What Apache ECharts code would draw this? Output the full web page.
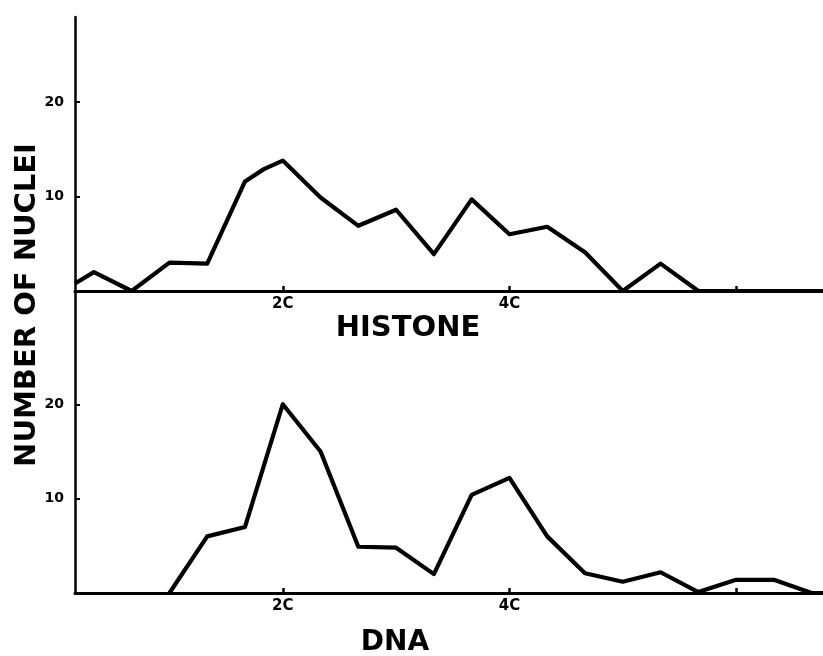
<!DOCTYPE html>
<html>
<head>
<meta charset="utf-8">
<script src="https://cdn.jsdelivr.net/npm/echarts@6/dist/echarts.min.js"></script>
<style>
html,body{margin:0;padding:0;background:#fff;}
#chart{width:823px;height:656px;}
</style>
</head>
<body>
<div id="chart"></div>
<script>
// x positions in channel steps (2C = 6, 4C = 12, 6C = 18)
var histoneX = [0.5, 1, 2, 3, 4, 5, 5.5, 6, 7, 8, 9, 10, 11, 12, 13, 14, 15, 16, 17, 18, 19, 20, 20.3];
var histoneY = [0.8, 2, 0, 3, 2.9, 11.6, 12.9, 13.8, 9.9, 6.9, 8.6, 3.9, 9.7, 6.0, 6.8, 4.1, 0, 2.9, 0, 0, 0, 0, 0];
var dnaX = [3, 4, 5, 6, 7, 8, 9, 10, 11, 12, 13, 14, 15, 16, 17, 18, 19, 20, 20.3];
var dnaY = [0, 6, 7, 20, 15, 4.9, 4.8, 2, 10.4, 12.2, 6, 2.1, 1.2, 2.2, 0.1, 1.4, 1.4, 0, 0];
var xTickValues = [6, 12, 18];
var xLabelValues = [6, 12];
var xLabelText = {6: '2C', 12: '4C'};
var yTickValues = [10, 20];
var yAxisTitle = 'NUMBER OF NUCLEI';
var topTitle = 'HISTONE';
var bottomTitle = 'DNA';

function pairs(xs, ys) { return xs.map(function (x, i) { return [x, ys[i]]; }); }

var FONT = 'DejaVu Sans';
function xAxisCfg(gi) {
  return {
    type: 'value', gridIndex: gi, min: 0.5, max: 20.3,
    splitLine: {show: false},
    axisLine: {show: true, onZero: false, lineStyle: {color: '#000', width: 3}},
    axisTick: {show: true, inside: true, length: 5, customValues: xTickValues, lineStyle: {color: '#000', width: 2.5}},
    axisLabel: {show: true, customValues: xLabelValues, margin: 6,
      formatter: function (v) { return xLabelText[v] || ''; },
      color: '#000', fontFamily: FONT, fontWeight: 'bold', fontSize: 15}
  };
}
function yAxisCfg(gi, max) {
  return {
    type: 'value', gridIndex: gi, min: 0, max: max,
    splitLine: {show: false},
    axisLine: {show: true, lineStyle: {color: '#000', width: 2.5}},
    axisTick: {show: true, inside: true, length: 5, customValues: yTickValues, lineStyle: {color: '#000', width: 2}},
    axisLabel: {show: true, customValues: yTickValues, margin: 11,
      color: '#000', fontFamily: FONT, fontWeight: 'bold', fontSize: 14}
  };
}

var chart = echarts.init(document.getElementById('chart'), null, {renderer: 'canvas'});
chart.setOption({
  backgroundColor: '#fff',
  animation: false,
  grid: [
    {left: 75, right: 0, top: 17, height: 274},
    {left: 75, right: 0, top: 291, height: 302}
  ],
  xAxis: [xAxisCfg(0), xAxisCfg(1)],
  yAxis: [yAxisCfg(0, 29), yAxisCfg(1, 32)],
  series: [
    {type: 'line', xAxisIndex: 0, yAxisIndex: 0, data: pairs(histoneX, histoneY),
      showSymbol: false, symbol: 'none', lineStyle: {color: '#000', width: 4.2, join: 'round'}, z: 3},
    {type: 'line', xAxisIndex: 1, yAxisIndex: 1, data: pairs(dnaX, dnaY),
      showSymbol: false, symbol: 'none', lineStyle: {color: '#000', width: 4.2, join: 'round'}, z: 3}
  ],
  graphic: [
    {type: 'text', x: 27, y: 305, rotation: Math.PI / 2,
      style: {text: yAxisTitle, fill: '#000', font: 'bold 29px "DejaVu Sans"', textAlign: 'center', textVerticalAlign: 'middle'}},
    {type: 'text', x: 408, y: 328,
      style: {text: topTitle, fill: '#000', font: 'bold 29px "DejaVu Sans"', textAlign: 'center', textVerticalAlign: 'middle'}},
    {type: 'text', x: 395, y: 643,
      style: {text: bottomTitle, fill: '#000', font: 'bold 28px "DejaVu Sans"', textAlign: 'center', textVerticalAlign: 'middle'}}
  ]
});
</script>
</body>
</html>
